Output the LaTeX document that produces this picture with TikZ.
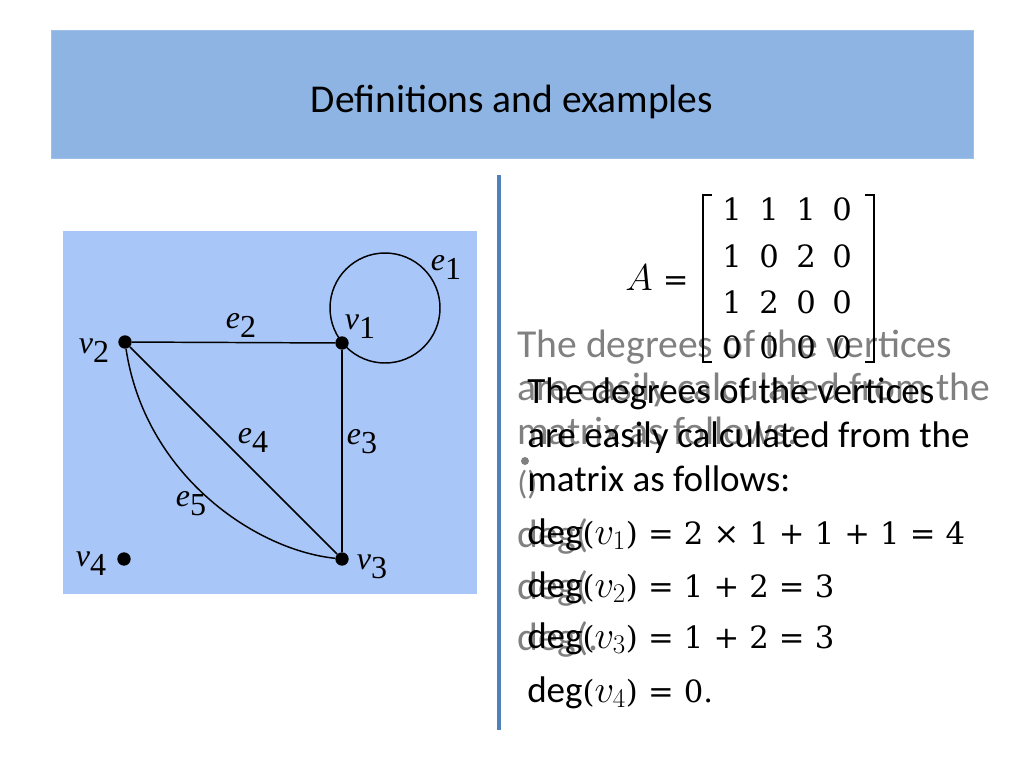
\RequirePackage{fix-cm}
\documentclass[tikz,border=0pt]{standalone}
\usepackage{fontspec}
\setmainfont{Liberation Serif}
\newfontfamily\calibri{Carlito}
\newfontfamily\cambria{DejaVu Serif}
\definecolor{bannerblue}{RGB}{141,180,226}
\definecolor{panelblue}{RGB}{168,198,248}
\definecolor{ruleblue}{RGB}{79,129,189}
\definecolor{ghost}{RGB}{128,128,128}
\newcommand{\lab}[2]{{\itshape #1}\raisebox{-0.28em}{\upshape #2}}
\newcommand{\gp}{\hspace{0.33em}}
\newcommand{\mv}[1]{{\fontsize{29}{34}\selectfont$v_{#1}$}}
\newcommand{\mth}[1]{{\cambria\fontsize{23}{28}\selectfont #1}}
\tikzset{
  titletext/.style={font=\calibri\fontsize{29.6}{35}\selectfont, inner sep=0, anchor=base},
  bodytext/.style={font=\calibri\fontsize{27.8}{33}\selectfont, inner sep=0, anchor=base west},
  ghosttext/.style={font=\calibri\fontsize{29.7}{35}\selectfont, text=ghost, inner sep=0, anchor=base west},
  mathline/.style={font=\calibri\fontsize{27.8}{33}\selectfont, inner sep=0, anchor=base west},
  digit/.style={font=\cambria\fontsize{23}{28}\selectfont, inner sep=0, anchor=base},
  vdot/.style={circle, fill=black, inner sep=0, minimum size=10pt},
  edge/.style={line width=1.1pt},
  glabel/.style={font=\rmfamily\fontsize{24}{24}\selectfont, inner sep=0},
  bracket/.style={line width=1.6pt}
}
\begin{document}
\begin{tikzpicture}[x=0.75pt,y=-0.75pt]
\useasboundingbox (0,0) rectangle (1024,768);
\fill[white] (0,0) rectangle (1024,768);
% banner
\node[fill=bannerblue, draw=bannerblue!85!white, minimum width=691.5pt, minimum height=96pt, inner sep=0, anchor=north west] (banner) at (51,30) {};
\node[titletext] (title) at (512,112) {Definitions and examples};
% vertical rule
\draw[ruleblue, line width=3pt] (499,175) -- (499,730);
% graph panel
\fill[panelblue] (63,231) rectangle (477,594);
\node[vdot] (v1) at (342,343) {};
\node[vdot] (v2) at (125,342) {};
\node[vdot] (v3) at (342,559) {};
\node[vdot] (v4) at (124,559) {};
\coordinate (loopc) at (385,308);
\draw[edge] (loopc) circle[radius=55];
\draw[edge] (v2) -- (v1);
\draw[edge, line width=1.4pt] (v1) -- (v3);
\draw[edge] (v2) -- (v3);
\draw[edge] (v2) .. controls (145,475) and (255,550) .. (v3);
\node[glabel] (le1) at (446,267) {\lab{e}{1}};
\node[glabel] (lv1) at (360,327) {\lab{v}{1}};
\node[glabel] (le2) at (241,325) {\lab{e}{2}};
\node[glabel] (lv2) at (94,351) {\lab{v}{2}};
\node[glabel] (le4) at (253,440) {\lab{e}{4}};
\node[glabel] (le3) at (362,442) {\lab{e}{3}};
\node[glabel] (le5) at (191,504) {\lab{e}{5}};
\node[glabel] (lv4) at (91,564) {\lab{v}{4}};
\node[glabel] (lv3) at (372,567) {\lab{v}{3}};
% ghost text (behind)
\node[ghosttext] (g1) at (517,357) {The degrees of the vertices};
\node[ghosttext] (g2) at (517,400) {are easily calculated from the};
\node[ghosttext] (g3) at (517,444) {matrix as follows:};
\fill[ghost] (525,461) circle[radius=4];
\node[ghosttext, font=\calibri\fontsize{25}{30}\selectfont] (g4) at (517,494) {()};
\node[ghosttext] (g5) at (517,547) {deg(};
\node[ghosttext] (g6) at (517,599) {deg(};
\node[ghosttext] (g7) at (517,650) {deg(.};
% matrix
\node[digit, anchor=base west] (Aeq) at (625,290) {{\fontsize{28}{32}\selectfont$A$}\gp=};
\foreach \a/\b/\c/\d/\yy/\r in {1/1/1/0/220/1, 1/0/2/0/267/2, 1/2/0/0/313/3, 0/0/0/0/358/4}{
  \node[digit] (m\r1) at (732,\yy) {\a};
  \node[digit] (m\r2) at (769,\yy) {\b};
  \node[digit] (m\r3) at (806,\yy) {\c};
  \node[digit] (m\r4) at (842,\yy) {\d};
}
\draw[bracket] (712,195) -- (703,195) -- (703,362) -- (712,362);
\draw[bracket] (865,195) -- (874,195) -- (874,362) -- (865,362);
% body text
\node[bodytext] (t1) at (527,403) {The degrees of the vertices};
\node[bodytext] (t2) at (527,447) {are easily calculated from the};
\node[bodytext] (t3) at (527,491) {matrix as follows:};
\node[mathline] (d1) at (527,544) {deg\mth{(\mv{1})\gp=\gp2\gp×\gp1\gp+\gp1\gp+\gp1\gp=\gp4}};
\node[mathline] (d2) at (527,597) {deg\mth{(\mv{2})\gp=\gp1\gp+\gp2\gp=\gp3}};
\node[mathline] (d3) at (527,648) {deg\mth{(\mv{3})\gp=\gp1\gp+\gp2\gp=\gp3}};
\node[mathline] (d4) at (527,702) {deg\mth{(\mv{4})\gp=\gp0.}};
\end{tikzpicture}
\end{document}
